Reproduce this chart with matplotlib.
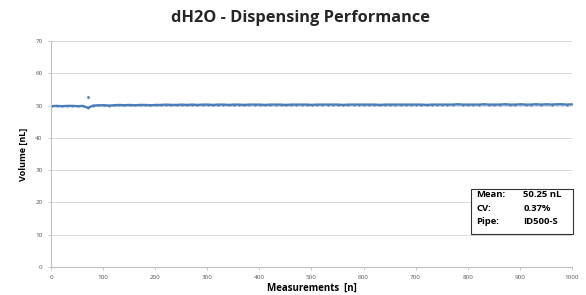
import matplotlib.pyplot as plt
import numpy as np

meas = list(range(1, 1001, 10)) + [1000]
volume = [49.8, 49.9, 49.8, 49.9, 49.9, 49.8, 49.9, 49.3, 50.0, 50.1,
          50.1, 50.0, 50.1, 50.2, 50.1, 50.2, 50.1, 50.2, 50.2, 50.1,
          50.2, 50.2, 50.3, 50.2, 50.2, 50.3, 50.2, 50.3, 50.2, 50.3,
          50.3, 50.2, 50.3, 50.3, 50.2, 50.3, 50.3, 50.2, 50.3, 50.3,
          50.3, 50.2, 50.3, 50.3, 50.3, 50.2, 50.3, 50.3, 50.3, 50.3,
          50.2, 50.3, 50.3, 50.3, 50.3, 50.3, 50.2, 50.3, 50.3, 50.3,
          50.3, 50.3, 50.3, 50.2, 50.3, 50.3, 50.3, 50.3, 50.3, 50.3,
          50.3, 50.3, 50.2, 50.3, 50.3, 50.3, 50.3, 50.3, 50.4, 50.3,
          50.3, 50.3, 50.3, 50.4, 50.3, 50.3, 50.3, 50.4, 50.3, 50.3,
          50.4, 50.3, 50.3, 50.4, 50.3, 50.4, 50.3, 50.4, 50.4, 50.3,
          50.4]
outlier_x = [72]
outlier_y = [52.5]

stats_keys = ['Mean:', 'CV:', 'Pipe:']
stats_vals = ['50.25 nL', '0.37%', 'ID500-S']

plt.rcParams['font.family'] = ['Open Sans', 'DejaVu Sans']

fig = plt.figure(figsize=(5.86, 2.95), dpi=100)
ax = fig.add_axes([0.087, 0.095, 0.889, 0.766])

ax.plot(meas, volume, color='#4a7ebb', lw=1.7, marker='.', ms=1.2)
ax.plot(outlier_x, outlier_y, ls='none', marker='.', ms=2, color='#4a7ebb')

ax.set_xlim(0, 1000)
ax.set_ylim(0, 70)
ax.set_xticks(np.arange(0, 1001, 100))
ax.set_yticks(np.arange(0, 71, 10))
ax.yaxis.grid(True, color='#d9d9d9', lw=0.7)
ax.set_axisbelow(True)
for s in ['top', 'right']:
    ax.spines[s].set_visible(False)
for s in ['left', 'bottom']:
    ax.spines[s].set_color('#bfbfbf')
    ax.spines[s].set_linewidth(0.8)
ax.tick_params(labelsize=4.5, colors='#bfbfbf', labelcolor='#555555', length=2.5, width=0.6)

ax.set_xlabel('Measurements  [n]', fontsize=7, fontweight='bold', labelpad=2)
ax.set_ylabel('Volume [nL]', fontsize=6.5, fontweight='bold', labelpad=5)
fig.text(0.512, 0.94, 'dH2O - Dispensing Performance', ha='center', va='center',
         fontsize=11.8, fontweight='bold', color='#262626')

# stats box
box = plt.Rectangle((0.804, 0.207), 0.174, 0.153, transform=fig.transFigure,
                    facecolor='white', edgecolor='#333333', lw=0.8, zorder=5)
fig.add_artist(box)
for i, (k, v) in enumerate(zip(stats_keys, stats_vals)):
    y = 0.34 - i * 0.046
    fig.text(0.813, y, k, fontsize=6.8, fontweight='bold', va='center', zorder=6)
    fig.text(0.893, y, v, fontsize=6.8, fontweight='bold', va='center', zorder=6)

fig.savefig('out.png', dpi=100)
